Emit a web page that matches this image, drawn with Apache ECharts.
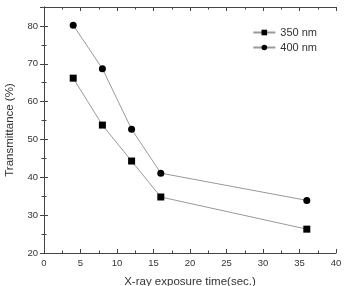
<!DOCTYPE html>
<html>
<head>
<meta charset="utf-8">
<script src="https://cdn.jsdelivr.net/npm/echarts@6/dist/echarts.min.js"></script>
<style>
  html, body { margin: 0; padding: 0; background: #fff; }
  #main { width: 344px; height: 286px; }
</style>
</head>
<body>
<div id="main"></div>
<script>
    var times = [4, 8, 12, 16, 36];
    var nm350 = [66.2, 53.8, 44.3, 34.8, 26.3];
    var nm400 = [80.2, 68.7, 52.7, 41.1, 33.9];

    function pairs(xs, ys) {
        return xs.map(function (x, i) { return [x, ys[i]]; });
    }

    var font = 'Liberation Sans, Arial, sans-serif';
    var axisCommon = {
        axisLine: { lineStyle: { color: '#444', width: 1 } },
        axisTick: { inside: true, length: 4, lineStyle: { color: '#444' } },
        minorTick: { show: true, splitNumber: 2, length: 2.5, lineStyle: { color: '#444' } },
        splitLine: { show: false }
    };

    var myChart = echarts.init(document.getElementById('main'));
    option = {
        animation: false,
        textStyle: { fontFamily: font },
        grid: { left: 44, right: 8, top: 7, bottom: 33, outerBoundsMode: 'none', containLabel: false },
        legend: {
            right: 22,
            top: 22,
            orient: 'vertical',
            itemGap: 4,
            itemWidth: 22,
            itemHeight: 7,
            textStyle: { fontSize: 11, color: '#333', fontFamily: font },
            data: ['350 nm', '400 nm']
        },
        xAxis: [
            Object.assign({
                type: 'value', min: 0, max: 40, interval: 5,
                name: 'X-ray exposure time(sec.)',
                nameLocation: 'middle', nameGap: 23,
                nameTextStyle: { fontSize: 11.5, color: '#333' },
                axisLabel: { fontSize: 9.5, color: '#333', margin: 5 }
            }, axisCommon),
            Object.assign({
                type: 'value', min: 0, max: 40, interval: 5, position: 'top',
                axisLabel: { show: false }
            }, axisCommon)
        ],
        yAxis: [
            Object.assign({
                type: 'value', min: 20, max: 85, interval: 10,
                name: 'Transmittance (%)',
                nameLocation: 'middle', nameGap: 28,
                nameTextStyle: { fontSize: 11.5, color: '#333' },
                axisLabel: { fontSize: 9.5, color: '#333', margin: 6,
                    formatter: function (v) { return v % 10 === 0 ? v : ''; } }
            }, axisCommon),
            Object.assign({
                type: 'value', min: 20, max: 85, interval: 10, position: 'right',
                axisLabel: { show: false }
            }, axisCommon)
        ],
        series: [
            {
                name: '350 nm', type: 'line',
                data: pairs(times, nm350),
                symbol: 'rect', symbolSize: 7,
                itemStyle: { color: '#000' },
                lineStyle: { color: '#999', width: 1 }
            },
            {
                name: '400 nm', type: 'line',
                data: pairs(times, nm400),
                symbol: 'circle', symbolSize: 7,
                itemStyle: { color: '#000' },
                lineStyle: { color: '#999', width: 1 }
            }
        ]
    };
    myChart.setOption(option);
</script>
</body>
</html>
